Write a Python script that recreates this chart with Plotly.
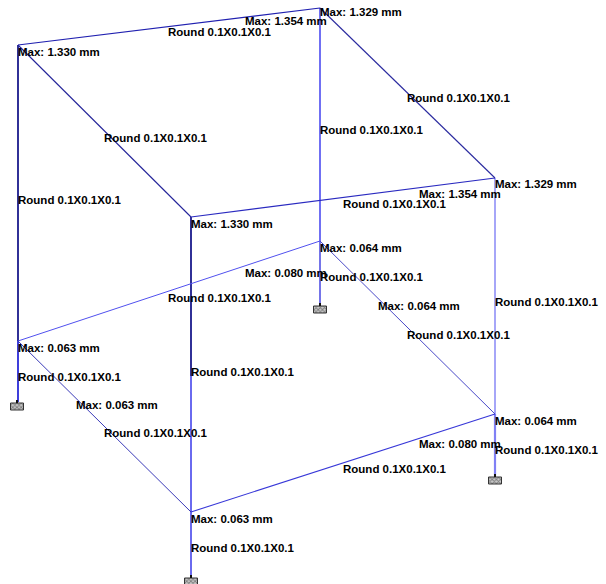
import plotly.graph_objects as go

# Members of the frame
member_x = [
    (18, 18), (18, 18), (191, 191), (191, 191), (191, 191), (320, 320), (320, 320), (495, 495), (495, 495),
    (18, 320), (320, 495), (495, 191), (191, 18),
    (18, 320), (320, 495), (495, 191), (191, 18),
]
member_y = [
    (45, 341), (341, 402), (217, 376), (376, 512), (512, 577), (8, 241), (241, 305), (178, 414), (414, 476),
    (45, 8), (8, 178), (178, 217), (217, 45),
    (341, 241), (241, 414), (414, 512), (512, 341),
]
member_color = [
    "#1a1a8c", "#2a2ad8", "#1a1a8c", "#5a5aee", "#5a5aee", "#3333ee", "#3a3ae0", "#8080f5", "#8080f5",
    "#2020b0", "#2a2a9f", "#2a2ac0", "#25259a",
    "#5050ee", "#4a4ac8", "#3838d8", "#3a3ab8",
]
member_width = [1.8, 1.8, 1.8, 1.8, 1.8, 1.4, 1.4, 1.4, 2.2, 1.2, 1.1, 1.2, 1.1, 1, 1, 1.1, 1]

support_x = [17, 320, 495, 191]
support_top = [402, 305, 476, 577]

MAX_LBL = "Max: {} mm"
SEC = "Round 0.1X0.1X0.1"
label_x = [18, 168, 245, 320, 407, 104, 320, 495, 419, 343, 18, 191,
           320, 245, 320, 168, 378, 495, 407, 18, 191, 18, 76, 495, 104, 419, 495, 343, 191, 191]
label_y = [53, 33, 22, 13, 99, 139, 131, 185, 195, 205, 201, 225,
           249, 274, 278, 299, 307, 303, 336, 349, 373, 378, 406, 422, 434, 445, 451, 470, 520, 549]
label_text = [
    MAX_LBL.format("1.330"), SEC, MAX_LBL.format("1.354"), MAX_LBL.format("1.329"), SEC, SEC, SEC,
    MAX_LBL.format("1.329"), MAX_LBL.format("1.354"), SEC, SEC, MAX_LBL.format("1.330"),
    MAX_LBL.format("0.064"), MAX_LBL.format("0.080"), SEC, SEC, MAX_LBL.format("0.064"), SEC, SEC,
    MAX_LBL.format("0.063"), SEC, SEC, MAX_LBL.format("0.063"), MAX_LBL.format("0.064"), SEC,
    MAX_LBL.format("0.080"), SEC, SEC, MAX_LBL.format("0.063"), SEC,
]

fig = go.Figure()
for xs, ys, c, w in zip(member_x, member_y, member_color, member_width):
    fig.add_trace(go.Scatter(x=list(xs), y=list(ys), mode="lines", line=dict(color=c, width=w),
                             hoverinfo="skip", showlegend=False))

# Supports: stub + hatched footing
for sx, st in zip(support_x, support_top):
    fig.add_trace(go.Scatter(x=[sx, sx], y=[st - 2, st + 1], mode="lines",
                             line=dict(color="#111111", width=2), showlegend=False, hoverinfo="skip"))
fig.add_trace(go.Bar(
    x=support_x, y=[7] * 4, base=[t + 1 for t in support_top], width=13,
    marker=dict(color="#c8c8c8", line=dict(color="#333333", width=1),
                pattern=dict(shape="x", size=3, solidity=0.5, fgcolor="#333333", bgcolor="#c8c8c8")),
    showlegend=False, hoverinfo="skip",
))

fig.add_trace(go.Scatter(
    x=label_x, y=label_y, text=label_text, mode="text", textposition="middle right",
    textfont=dict(family="Liberation Sans", size=11.5, color="#000000", weight="bold"),
    showlegend=False, hoverinfo="skip",
))

fig.update_layout(
    width=606, height=584, margin=dict(l=0, r=0, t=0, b=0),
    paper_bgcolor="#ffffff", plot_bgcolor="#ffffff",
    xaxis=dict(range=[0, 606], visible=False, fixedrange=True),
    yaxis=dict(range=[584, 0], visible=False, fixedrange=True),
)
fig.write_html("out.html", config={"displayModeBar": False},
               post_script="document.body.style.margin='0';document.documentElement.style.overflow='hidden';")
